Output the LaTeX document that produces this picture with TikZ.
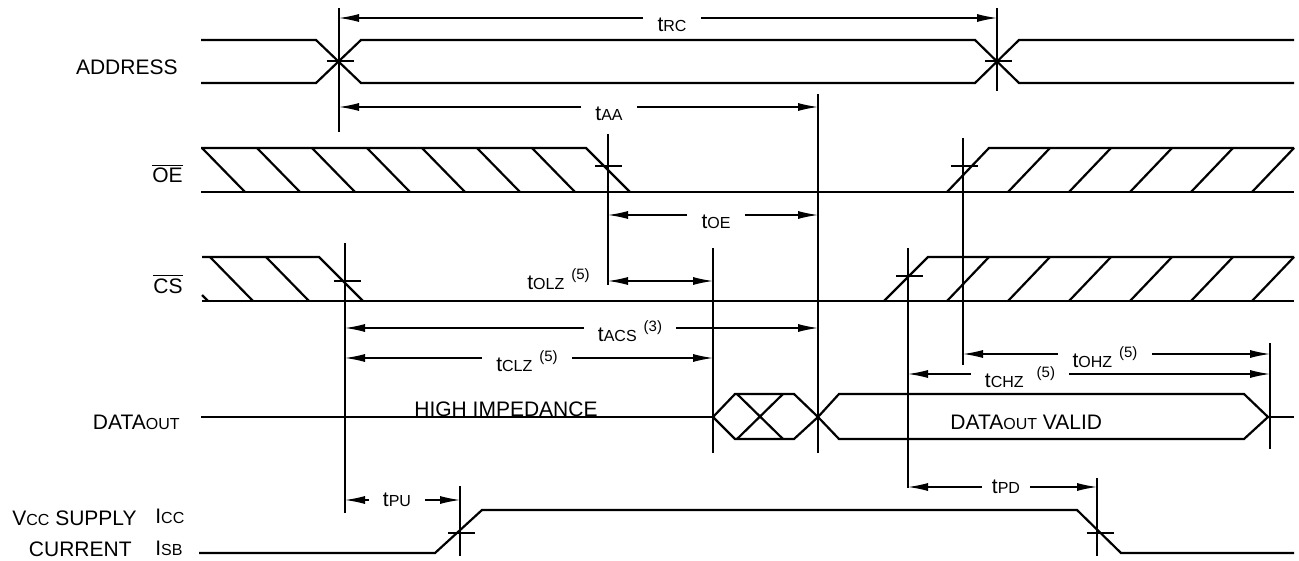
\documentclass[tikz,border=0pt]{standalone}
\usepackage{fontspec}
\setmainfont{Liberation Sans}
\usetikzlibrary{arrows.meta}
\newcommand{\sm}[1]{{\fontsize{8}{9}\selectfont #1}}
\newcommand{\nt}[1]{\hspace{3.5pt}\raisebox{5pt}{\fontsize{7.5}{8}\selectfont(#1)}}
\begin{document}
\begin{tikzpicture}[x=0.5pt,y=-0.5pt,>={Latex[length=10pt,width=4pt]},
    font=\fontsize{10.5}{12}\selectfont,
    sig/.style={line width=1.1pt},
    dim/.style={line width=0.6pt},
    lbl/.style={anchor=north,inner xsep=7pt,inner ysep=0pt,text height=6.5pt,text depth=0pt},
    lblc/.style={lbl,anchor=center},
    sname/.style={anchor=base east,inner sep=0pt}]
\useasboundingbox (0,0) rectangle (1299,561);

\node[sname] (address) at (178,75) {ADDRESS};
\node[sname] (oe) at (183,183) {$\overline{\mbox{OE}}$};
\node[sname] (cs) at (183,293) {$\overline{\mbox{CS}}$};
\node[sname] (dout) at (180,429) {DATA\sm{OUT}};
\node[sname] (vcc) at (137,525) {V\sm{CC} SUPPLY};
\node[sname] (cur) at (132,556) {CURRENT};
\node[anchor=base west,inner sep=0pt] (icc) at (155,523) {I\sm{CC}};
\node[anchor=base west,inner sep=0pt] (isb) at (155,555) {I\sm{SB}};

% address
\draw[sig] (201,40)--(316,40)--(361,83)--(975,83)--(1019,40)--(1294,40);
\draw[sig] (201,83)--(316,83)--(361,40)--(975,40)--(1019,83)--(1294,83);

% oe
\draw[sig] (201,148)--(586,148)--(630,192);
\draw[sig] (201,192)--(1294,192);
\foreach \x in {202,257,...,532} \draw[sig] (\x,148)--++(43,44);
\draw[sig] (947,192)--(989,148)--(1294,148);
\foreach \x in {1008,1069,...,1252} \draw[sig] (\x,192)--++(42,-44);

% cs
\draw[sig] (202,257)--(319,257)--(363,301);
\draw[sig] (202,301)--(1294,301);
\draw[sig] (202,295)--(208,301);
\foreach \x in {210,266} \draw[sig] (\x,257)--++(43,44);
\draw[sig] (884,301)--(928,257)--(1294,257);
\foreach \x in {947,1008,...,1252} \draw[sig] (\x,301)--++(42,-44);

% data out
\draw[sig] (201,417)--(713,417);
\draw[sig] (713,417)--(735,394)--(794,394)--(818,417)--(839,439)--(1244,439)--(1268,417)
    --(1244,394)--(839,394)--(818,417)--(794,439)--(735,439)--cycle;
\draw[sig] (737,394)--(783,439) (737,439)--(783,394);
\draw[sig] (1268,417)--(1294,417);
\node[anchor=base west,inner sep=0pt] (hiz) at (414,416) {HIGH IMPEDANCE};
\node[anchor=base west,inner sep=0pt] (valid) at (950,429) {DATA\sm{OUT} VALID};

% vcc supply current
\draw[sig] (199,553)--(435,553)--(482,510)--(1077,510)--(1121,553)--(1294,553);

% reference lines and crossing marks
\foreach \n/\x/\ya/\yb in {ad1/339/8/132, ad2/997/8/91, aa/818/94/453, oe/608/134/285,
    olz/713/248/453, cs/345/243/513, ohz/963/138/365, chz/908/248/488,
    hz/1270/343/449, pu/460/486/556, pd/1097/478/556}
{
    \coordinate (\n t) at (\x,\ya);
    \coordinate (\n b) at (\x,\yb);
    \draw[dim] (\n t)--(\n b);
}
\foreach \x/\y in {340/61, 998/61, 608/166, 964/166, 347/281, 909/276, 461/533, 1100/533}
    \draw[dim] (\x-13,\y)--++(27,0);

% timing arrows
\node[lbl] (rc) at (672,18) {t\sm{RC}};
\draw[dim,->] (rc.north west)--(ad1t |- rc.north west);
\draw[dim,->] (rc.north east)--(ad2t |- rc.north east);

\node[lbl] (aa) at (609,107) {t\sm{AA}};
\draw[dim,->] (aa.north west)--(ad1t |- aa.north west);
\draw[dim,->] (aa.north east)--(aat |- aa.north east);

\node[lbl] (toe) at (716,215) {t\sm{OE}};
\draw[dim,->] (toe.north west)--(oet |- toe.north west);
\draw[dim,->] (toe.north east)--(aat |- toe.north east);

\node[anchor=base west,inner sep=0pt] (olz) at (527,289) {t\sm{OLZ}\nt{5}};
\coordinate (olzy) at (660,281);
\draw[dim,<->] (oet |- olzy)--(olzt |- olzy);

\node[lbl] (acs) at (630,328) {t\sm{ACS}\nt{3}};
\draw[dim,->] (acs.north west)--(cst |- acs.north west);
\draw[dim,->] (acs.north east)--(aat |- acs.north east);

\node[lbl] (clz) at (527,358) {t\sm{CLZ}\nt{5}};
\draw[dim,->] (clz.north west)--(cst |- clz.north west);
\draw[dim,->] (clz.north east)--(olzt |- clz.north east);

\node[lbl] (ohz) at (1105,354) {t\sm{OHZ}\nt{5}};
\draw[dim,->] (ohz.north west)--(ohzt |- ohz.north west);
\draw[dim,->] (ohz.north east)--(hzt |- ohz.north east);

\node[lbl] (chz) at (1020,374) {t\sm{CHZ}\hspace{3pt}\nt{5}};
\draw[dim,->] (chz.north west)--(chzt |- chz.north west);
\draw[dim,->] (chz.north east)--(hzt |- chz.north east);

\node[lblc] (pu) at (397,500) {t\sm{PU}};
\draw[dim,->] (pu.west)--(cst |- pu.west);
\draw[dim,->] (pu.east)--(put |- pu.east);

\node[lblc,inner xsep=5pt] (pd) at (1006,487) {t\sm{PD}};
\draw[dim,->] (pd.west)--(chzt |- pd.west);
\draw[dim,->] (pd.east)--(pdt |- pd.east);
\end{tikzpicture}
\end{document}
